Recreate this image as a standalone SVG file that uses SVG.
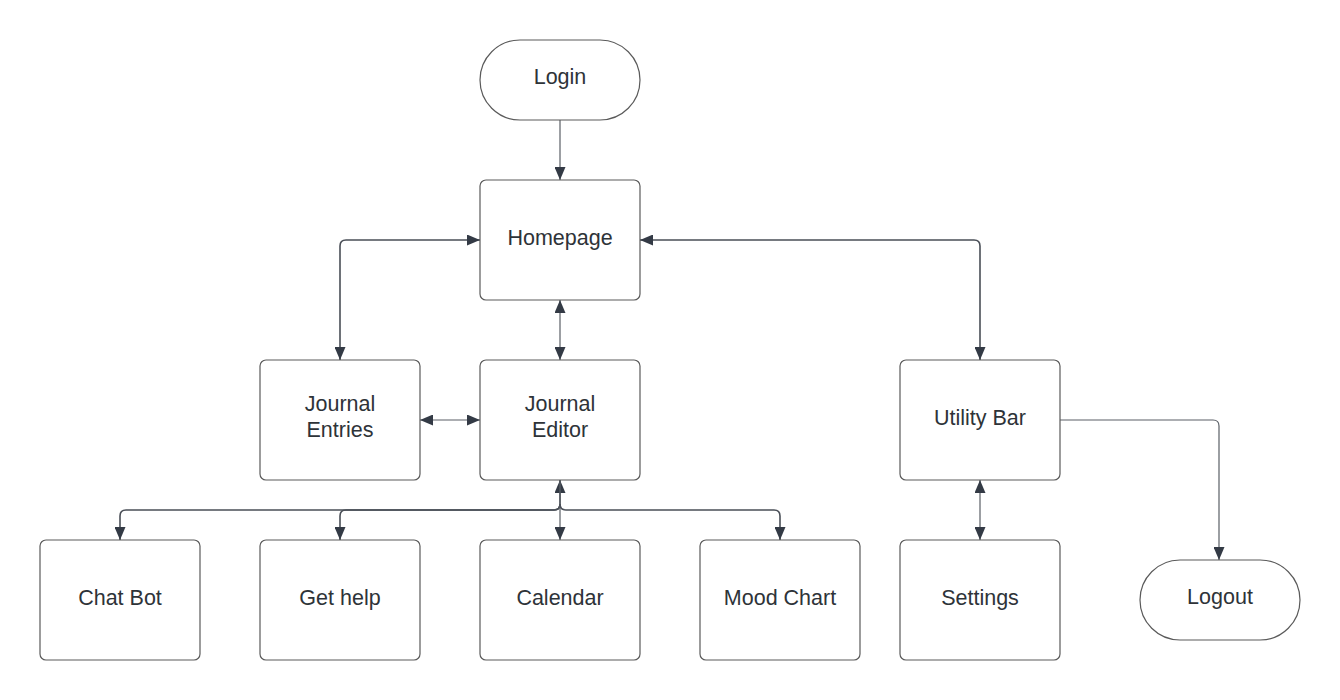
<svg xmlns="http://www.w3.org/2000/svg" width="1340" height="700" viewBox="0 0 1340 700">
<style>
.node{fill:#fff;stroke:#5a5a5a;stroke-width:1.2}
.lbl{font-family:"Liberation Sans",Arial,sans-serif;font-size:21.5px;fill:#2e3338;text-anchor:middle;dominant-baseline:central}
.c{fill:none;stroke:#4a4f57;stroke-width:1.6}
.t{fill:none;stroke:#5a5f66;stroke-width:1.2}
</style>
<defs>
<marker id="ah" viewBox="0 0 13 11" refX="13" refY="5.5" markerWidth="13" markerHeight="11" markerUnits="userSpaceOnUse" orient="auto-start-reverse">
<path d="M0,0 L13,5.5 L0,11 Z" fill="#333a45"/>
</marker>
</defs>
<rect width="1340" height="700" fill="#fff"/>
<g id="connectors">
<path class="t" d="M560,120 V180" marker-end="url(#ah)"/>
<path class="c" d="M480,240 H346 Q340,240 340,246 V360" marker-start="url(#ah)" marker-end="url(#ah)"/>
<path class="c" d="M640,240 H974 Q980,240 980,246 V360" marker-start="url(#ah)" marker-end="url(#ah)"/>
<path class="t" d="M560,300 V360" marker-start="url(#ah)" marker-end="url(#ah)"/>
<path class="t" d="M420,420 H480" marker-start="url(#ah)" marker-end="url(#ah)"/>
<path class="c" d="M560,480 V504 Q560,510 554,510 H126 Q120,510 120,516 V540" marker-start="url(#ah)" marker-end="url(#ah)" stroke-width="1.2"/>
<path class="c" d="M560,504 Q560,510 554,510 H346 Q340,510 340,516 V540" marker-end="url(#ah)"/>
<path class="t" d="M560,480 V540" marker-end="url(#ah)"/>
<path class="c" d="M560,504 Q560,510 566,510 H774 Q780,510 780,516 V540" marker-end="url(#ah)"/>
<path class="t" d="M980,480 V540" marker-start="url(#ah)" marker-end="url(#ah)"/>
<path class="t" d="M1060,420 H1213 Q1219,420 1219,426 V560" marker-end="url(#ah)"/>
</g>
<g id="login"><rect class="node" x="480" y="40" width="160" height="80" rx="40"/><text class="lbl" x="560" y="77">Login</text></g>
<g id="homepage"><rect class="node" x="480" y="180" width="160" height="120" rx="6"/><text class="lbl" x="560" y="238">Homepage</text></g>
<g id="journal-entries"><rect class="node" x="260" y="360" width="160" height="120" rx="6"/><text class="lbl" x="340" y="404">Journal</text><text class="lbl" x="340" y="430">Entries</text></g>
<g id="journal-editor"><rect class="node" x="480" y="360" width="160" height="120" rx="6"/><text class="lbl" x="560" y="404">Journal</text><text class="lbl" x="560" y="430">Editor</text></g>
<g id="utility-bar"><rect class="node" x="900" y="360" width="160" height="120" rx="6"/><text class="lbl" x="980" y="418">Utility Bar</text></g>
<g id="chat-bot"><rect class="node" x="40" y="540" width="160" height="120" rx="6"/><text class="lbl" x="120" y="598">Chat Bot</text></g>
<g id="get-help"><rect class="node" x="260" y="540" width="160" height="120" rx="6"/><text class="lbl" x="340" y="598">Get help</text></g>
<g id="calendar"><rect class="node" x="480" y="540" width="160" height="120" rx="6"/><text class="lbl" x="560" y="598">Calendar</text></g>
<g id="mood-chart"><rect class="node" x="700" y="540" width="160" height="120" rx="6"/><text class="lbl" x="780" y="598">Mood Chart</text></g>
<g id="settings"><rect class="node" x="900" y="540" width="160" height="120" rx="6"/><text class="lbl" x="980" y="598">Settings</text></g>
<g id="logout"><rect class="node" x="1140" y="560" width="160" height="80" rx="40"/><text class="lbl" x="1220" y="597">Logout</text></g>
</svg>
